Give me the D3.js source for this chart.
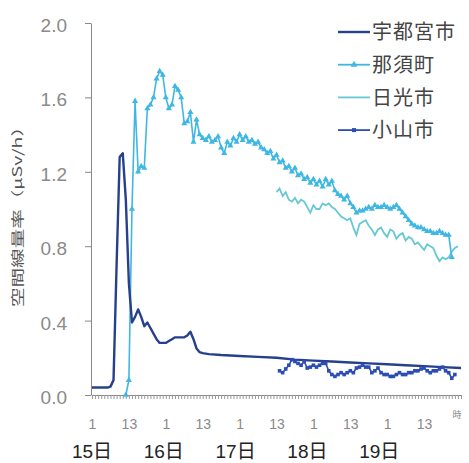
<!DOCTYPE html>
<html>
<head>
<meta charset="utf-8">
<script src="https://cdn.jsdelivr.net/npm/d3@7"></script>
<style>
    body { margin: 0; background: #fff; }
    svg text { font-family: "Liberation Sans", Arial, "Noto Sans CJK JP", sans-serif; }
    .jp { font-family: "Noto Sans CJK JP", sans-serif; }
</style>
</head>
<body>
<div id="chart"></div>
<script>
// hours counted from 15日 1時
const hourTickValues = [0, 12, 24, 36, 48, 60, 72, 84, 96, 108];
const hourTickLabels = ["1", "13", "1", "13", "1", "13", "1", "13", "1", "13"];
const dayLabels = ["15日", "16日", "17日", "18日", "19日"];
const yTicks = [0, 0.4, 0.8, 1.2, 1.6, 2.0];
const seriesNames = ["宇都宮市", "那須町", "日光市", "小山市"];

const utsunomiyaHours = [0,1,2,3,4,5,6,7,8,9,10,11,12,13,14,15,16,17,18,19,20,21,22,23,24,25,26,27,28,29,30,31,32,33,34,35,36,
    38,42,48,54,60,66,72,78,84,90,96,102,108,114,120];
const utsunomiyaValues = [0.04,0.04,0.04,0.04,0.04,0.04,0.045,0.08,0.70,1.28,1.30,1.05,0.60,0.39,0.42,0.46,0.42,0.37,0.39,0.36,
    0.33,0.30,0.28,0.28,0.28,0.29,0.30,0.31,0.31,0.31,0.31,0.32,0.34,0.30,0.25,0.23,0.225,
    0.22,0.215,0.21,0.205,0.20,0.19,0.185,0.18,0.175,0.17,0.165,0.16,0.155,0.15,0.145];

const nasuStart = 11;
const nasuValues = [0.00,0.08,1.00,1.58,1.20,1.23,1.22,1.54,1.56,1.60,1.70,1.74,1.72,1.60,1.54,1.56,1.66,1.64,1.60,
    1.46,1.47,1.52,1.36,1.48,1.40,1.38,1.37,1.39,1.36,1.37,1.39,1.33,1.30,1.36,1.34,1.38,1.36,1.40,1.37,1.39,
    1.36,1.37,1.35,1.36,1.33,1.32,1.30,1.31,1.27,1.29,1.25,1.26,1.22,1.23,1.20,1.22,1.18,1.19,1.16,1.17,
    1.14,1.16,1.13,1.15,1.12,1.16,1.13,1.15,1.10,1.08,1.07,1.05,1.07,1.03,1.01,0.98,0.99,0.99,1.00,1.01,
    1.00,1.02,1.01,1.01,1.02,1.01,1.00,1.01,1.02,1.00,0.98,0.96,0.94,0.92,0.91,0.90,0.90,0.89,0.88,0.88,
    0.87,0.87,0.88,0.87,0.86,0.86,0.74];

const nikkoStart = 60;
const nikkoValues = [1.09,1.11,1.07,1.09,1.05,1.04,1.06,1.03,1.05,1.04,1.01,0.98,1.02,1.00,1.00,1.03,1.02,1.03,1.01,1.00,
    0.98,0.96,0.95,0.94,0.95,0.90,0.86,0.92,0.93,0.94,0.91,0.89,0.86,0.89,0.90,0.87,0.85,0.89,0.88,0.84,
    0.86,0.87,0.83,0.85,0.84,0.81,0.82,0.80,0.78,0.81,0.80,0.79,0.75,0.72,0.74,0.73,0.74,0.77,0.79,0.80];

const oyamaStart = 61;
const oyamaValues = [0.13,0.12,0.14,0.16,0.19,0.18,0.17,0.16,0.18,0.145,0.15,0.16,0.15,0.16,0.17,0.17,0.13,0.11,0.10,0.11,
    0.12,0.11,0.12,0.13,0.12,0.145,0.15,0.16,0.15,0.15,0.12,0.13,0.145,0.12,0.11,0.11,0.10,0.10,0.11,0.12,
    0.11,0.11,0.12,0.12,0.13,0.13,0.14,0.145,0.13,0.12,0.13,0.13,0.14,0.15,0.13,0.12,0.09,0.11];

const colors = ["#27408b", "#3fb7e3", "#66c8d4", "#2b4db5"];

const width = 469, height = 463;
const margin = {top: 23, right: 8, bottom: 68, left: 92};

const svg = d3.select("#chart").append("svg")
    .attr("width", width).attr("height", height);

const x = d3.scaleLinear().domain([0, 120]).range([margin.left, width - margin.right]);
const y = d3.scaleLinear().domain([0, 2]).range([height - margin.bottom, margin.top]);

// build point lists
const utsunomiya = utsunomiyaHours.map((h, i) => ({h: h, v: utsunomiyaValues[i]}));
const nasu = nasuValues.map((v, i) => ({h: nasuStart + i, v: v}));
const nikko = nikkoValues.map((v, i) => ({h: nikkoStart + i, v: v}));
const oyama = oyamaValues.map((v, i) => ({h: oyamaStart + i, v: v}));

// X axis, a tick every hour
const xAxis = svg.append("g")
    .attr("transform", `translate(0,${y(0)})`)
    .call(d3.axisBottom(x)
        .tickValues(d3.range(0, 121))
        .tickSize(4).tickSizeOuter(0)
        .tickPadding(20)
        .tickFormat(h => {
            let k = hourTickValues.indexOf(h);
            return k >= 0 ? hourTickLabels[k] : "";
        }));
xAxis.selectAll("line").attr("stroke", "#999");
xAxis.select(".domain").attr("stroke", "#888");
xAxis.selectAll("text").attr("fill", "#8a8a8a").style("font-size", "14px");

svg.append("text").attr("class", "jp")
    .attr("x", 457).attr("y", 418)
    .attr("text-anchor", "middle")
    .attr("fill", "#888").style("font-size", "9px")
    .text("時");

svg.append("g").selectAll("text")
    .data(dayLabels)
    .join("text")
    .attr("x", (d, i) => x(i * 24) - 2 * i)
    .attr("y", 458)
    .attr("text-anchor", "middle")
    .attr("fill", "#222")
    .style("font-size", "19px")
    .text(d => d);

// Y axis
const yAxis = svg.append("g")
    .attr("transform", `translate(${x(0) - 1},0)`)
    .call(d3.axisLeft(y)
        .tickValues(yTicks)
        .tickFormat(d3.format(".1f"))
        .tickSize(6).tickSizeOuter(0)
        .tickPadding(18));
yAxis.selectAll("line").attr("stroke", "#888");
yAxis.select(".domain").attr("stroke", "#888");
yAxis.selectAll("text").attr("fill", "#8a8a8a").attr("dy", "0.45em").style("font-size", "19px");

svg.append("text").attr("class", "jp")
    .attr("transform", "translate(22,212) rotate(-90)")
    .attr("text-anchor", "middle")
    .attr("textLength", 190).attr("lengthAdjust", "spacingAndGlyphs")
    .attr("fill", "#555").style("font-size", "13px")
    .text("空間線量率（μSv/h）");

const line = d3.line().x(d => x(d.h)).y(d => y(d.v));

svg.append("path").datum(nikko)
    .attr("fill", "none").attr("stroke", colors[2]).attr("stroke-width", 1.8)
    .attr("d", line);

svg.append("path").datum(nasu)
    .attr("fill", "none").attr("stroke", colors[1]).attr("stroke-width", 1.6)
    .attr("d", line);
svg.append("g").selectAll("path")
    .data(nasu)
    .join("path")
    .attr("transform", d => `translate(${x(d.h)},${y(d.v)})`)
    .attr("d", d3.symbol(d3.symbolTriangle, 16))
    .attr("fill", colors[1]);

svg.append("path").datum(utsunomiya)
    .attr("fill", "none").attr("stroke", colors[0]).attr("stroke-width", 2.4)
    .attr("stroke-linejoin", "round")
    .attr("d", line);

svg.append("path").datum(oyama)
    .attr("fill", "none").attr("stroke", colors[3]).attr("stroke-width", 1.6)
    .attr("d", line);
svg.append("g").selectAll("rect")
    .data(oyama)
    .join("rect")
    .attr("x", d => x(d.h) - 1.8).attr("y", d => y(d.v) - 1.8)
    .attr("width", 3.6).attr("height", 3.6)
    .attr("fill", colors[3]);

// Legend
const legend = svg.append("g").selectAll("g")
    .data(seriesNames)
    .join("g")
    .attr("transform", (d, i) => `translate(338,${32 + i * 32.7})`);
legend.append("line")
    .attr("x1", 0).attr("x2", 32)
    .attr("stroke", (d, i) => colors[i])
    .attr("stroke-width", (d, i) => i === 0 ? 2.4 : 1.8);
legend.filter((d, i) => i === 1).append("path")
    .attr("transform", "translate(16,0)")
    .attr("d", d3.symbol(d3.symbolTriangle, 20))
    .attr("fill", colors[1]);
legend.filter((d, i) => i === 3).append("rect")
    .attr("x", 14).attr("y", -2).attr("width", 4).attr("height", 4)
    .attr("fill", colors[3]);
legend.append("text").attr("class", "jp")
    .attr("x", 34).attr("dy", "0.36em")
    .attr("fill", "#444")
    .style("font-size", "20px")
    .style("letter-spacing", "1px")
    .text(d => d);
</script>
</body>
</html>
